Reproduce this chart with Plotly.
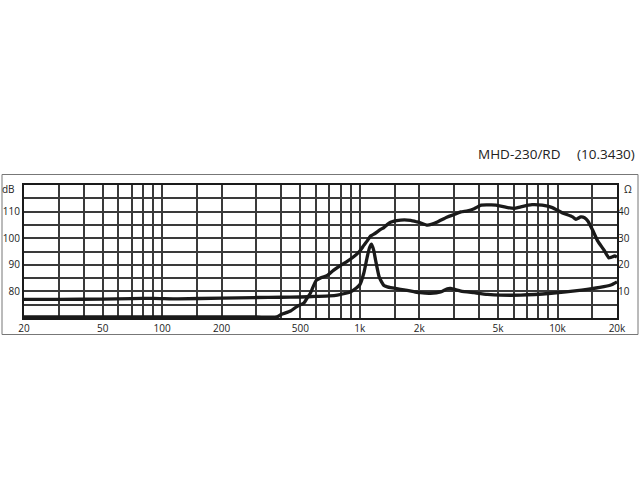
import plotly.graph_objects as go

# SPL curve (dB, left axis)
spl_freq = [20, 100, 200, 300, 380, 400, 446, 480, 521, 541, 562, 600, 640, 684, 738, 800,
            863, 930, 1000, 1047, 1090, 1133, 1178, 1273, 1323, 1380, 1430, 1608, 1808, 1953,
            2023, 2195, 2320, 2467, 2773, 3000, 3244, 3509, 3787, 4110, 4627, 5163, 5600,
            6033, 6525, 7436, 8368, 9418, 10000, 10600, 11930, 12400, 13130, 13700, 14240,
            15070, 15960, 17200, 18190, 18630, 19500, 20000]
spl_db = [70.4, 70.4, 70.4, 70.4, 70.4, 71.3, 72.6, 74.3, 75.6, 77.5, 79.3, 84.0, 85.2, 86.0,
          88.0, 89.8, 91.3, 93.0, 95.2, 97.3, 99.0, 100.8, 101.5, 103.3, 104.0, 105.2, 106.0,
          106.8, 106.7, 106.1, 105.8, 104.9, 105.3, 106.1, 108.0, 108.9, 109.9, 110.3, 111.1,
          112.4, 112.5, 112.1, 111.5, 111.2, 111.8, 112.6, 112.4, 111.5, 110.5, 109.5, 108.0,
          107.1, 108.0, 107.7, 106.5, 103.0, 99.0, 95.5, 92.6, 92.8, 93.3, 92.9]

# Impedance curve (Ohm, right axis)
imp_freq = [20, 30, 50, 70, 90, 120, 200, 300, 400, 500, 600, 700, 770, 850, 900, 960, 1000,
            1047, 1090, 1120, 1146, 1175, 1201, 1252, 1290, 1324, 1377, 1430, 1608, 1876, 2023,
            2278, 2564, 2770, 2883, 3244, 3787, 4422, 5163, 6525, 9284, 13240, 16370, 18620, 20000]
imp_ohm = [7.0, 7.0, 7.1, 7.3, 7.4, 7.2, 7.5, 7.7, 7.8, 7.9, 8.1, 8.3, 8.6, 9.3, 9.9, 11.3, 12.5,
           16.8, 23.0, 26.5, 27.8, 25.5, 21.8, 15.5, 13.5, 12.2, 11.7, 11.4, 10.8, 9.9, 9.5,
           9.3, 9.8, 11.0, 11.1, 10.1, 9.5, 8.9, 8.6, 8.6, 9.3, 10.5, 11.5, 12.4, 13.6]

# Axis grids and labels
x_grid = [20, 30, 40, 50, 60, 70, 80, 90, 100, 150, 200, 300, 400, 500, 600, 700, 800, 900,
          1000, 1500, 2000, 3000, 4000, 5000, 6000, 7000, 8000, 9000, 10000, 15000, 20000]
x_labels = {20: "20", 50: "50", 100: "100", 200: "200", 500: "500", 1000: "1k", 2000: "2k",
            5000: "5k", 10000: "10k", 20000: "20k"}
y_grid = [70, 75, 80, 85, 90, 95, 100, 105, 110, 115, 120]
y_labels = {80: "80", 90: "90", 100: "100", 110: "110"}
ohm_ticks = [10, 20, 30, 40]

title_model = "MHD-230/RD"
title_code = "(10.3430)"

FONT = "Open Sans"
GRID = "#3a3a3a"

fig = go.Figure()
fig.add_trace(go.Scatter(x=spl_freq, y=spl_db, mode="lines",
                         line=dict(color="#1a1a1a", width=3.3, shape="spline", smoothing=0.5),
                         yaxis="y", hoverinfo="skip"))
fig.add_trace(go.Scatter(x=imp_freq, y=imp_ohm, mode="lines",
                         line=dict(color="#1a1a1a", width=3.3, shape="spline", smoothing=0.5),
                         yaxis="y2", hoverinfo="skip"))

fig.update_layout(
    width=640, height=480,
    autosize=False,
    margin=dict(l=24, r=23, t=185, b=162, pad=0),
    paper_bgcolor="white", plot_bgcolor="white",
    showlegend=False,
    font=dict(family=FONT, size=10, color="#222"),
    xaxis=dict(type="log", range=[1.30103, 4.30103], automargin=False,
               tickvals=x_grid, ticktext=[x_labels.get(v, "") for v in x_grid],
               showgrid=True, gridcolor=GRID, gridwidth=2,
               showline=True, linecolor="#1a1a1a", linewidth=2, mirror=True,
               ticks="", zeroline=False, tickfont=dict(size=10)),
    yaxis=dict(range=[70, 120], tickvals=y_grid, automargin=False,
               ticktext=[y_labels.get(v, "") for v in y_grid],
               showgrid=True, gridcolor=GRID, gridwidth=2,
               showline=True, linecolor="#1a1a1a", linewidth=2, mirror=True,
               ticks="", zeroline=False, tickfont=dict(size=10)),
    yaxis2=dict(range=[0, 50], overlaying="y", side="right", automargin=False,
                tickvals=ohm_ticks, ticktext=[str(v) for v in ohm_ticks],
                showgrid=False, zeroline=False, showline=False, ticks="",
                tickfont=dict(size=10)),
)

# outer frame
fig.add_shape(type="rect", xref="paper", yref="paper",
              x0=(2 - 24) / 593, x1=(638 - 24) / 593,
              y0=(318 - 334.5) / 133, y1=(318 - 174.5) / 133,
              line=dict(color="#777", width=1), fillcolor="rgba(0,0,0,0)")

# unit labels
fig.add_annotation(text="dB", xref="paper", yref="paper", x=(17 - 24) / 593, y=(318 - 189) / 133,
                   xanchor="right", yanchor="middle", showarrow=False, font=dict(size=10))
fig.add_annotation(text="Ω", xref="paper", yref="paper", x=(622 - 24) / 593, y=(318 - 189) / 133,
                   xanchor="left", yanchor="middle", showarrow=False, font=dict(size=10))

# title
fig.add_annotation(text=title_model, xref="paper", yref="paper", x=(476 - 24) / 593,
                   y=(318 - 154) / 133, xanchor="left", yanchor="middle", showarrow=False,
                   font=dict(size=13.5, color="#222"))
fig.add_annotation(text=title_code, xref="paper", yref="paper", x=(575 - 24) / 593,
                   y=(318 - 154) / 133, xanchor="left", yanchor="middle", showarrow=False,
                   font=dict(size=13.5, color="#222"))

# remove the default 8px page margin so the 640x480 figure fills the window exactly
fig.write_html("out.html",
               config={"displayModeBar": False, "staticPlot": True},
               post_script="document.body.style.margin='0';document.body.style.overflow='hidden';")
